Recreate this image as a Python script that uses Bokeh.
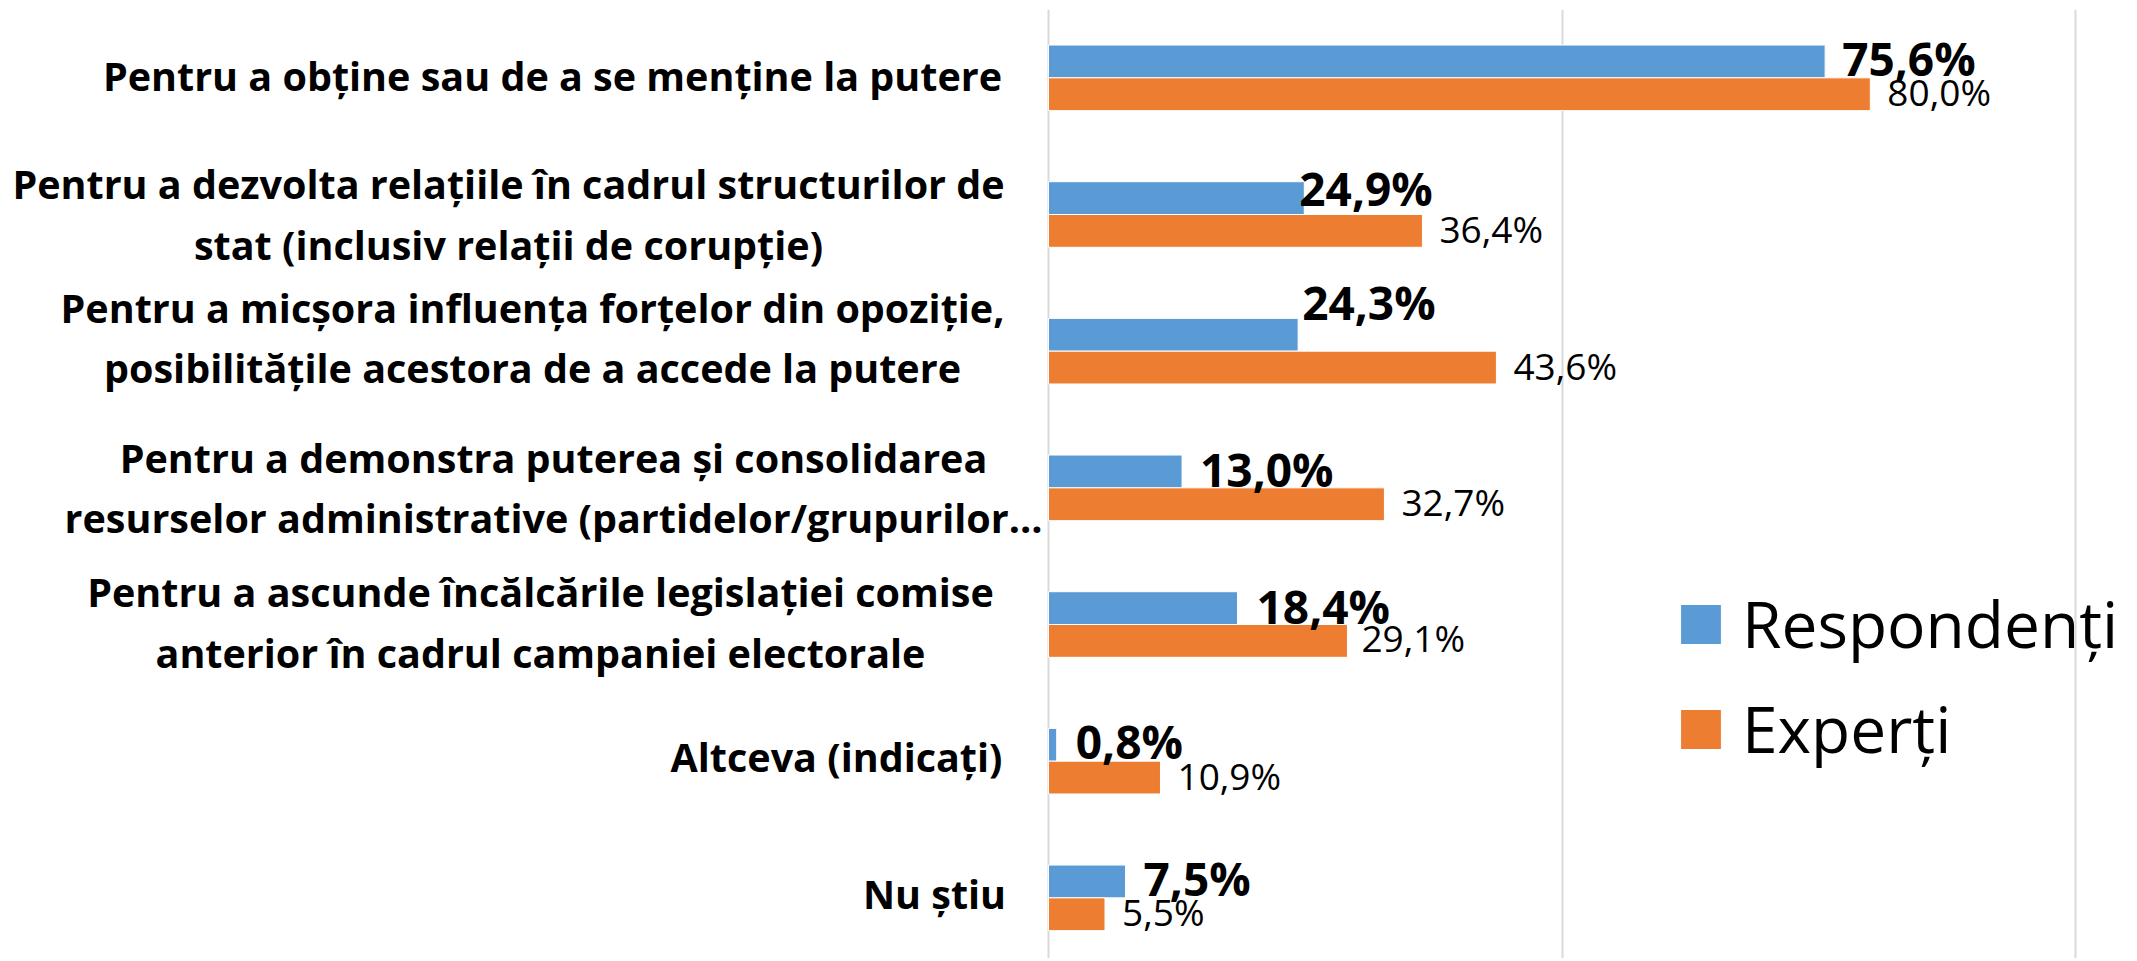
import numpy as np
from bokeh.plotting import figure
from bokeh.models import ColumnDataSource, Range1d, FixedTicker, Grid, Legend, LegendItem
from bokeh.core.properties import value
from bokeh.embed import file_html
from bokeh.resources import INLINE

# ---------------- data ----------------
categories = [
    "Pentru a obține sau de a se menține la putere",
    "Pentru a dezvolta relațiile în cadrul structurilor de\nstat (inclusiv relații de corupție)",
    "Pentru a micșora influența forțelor din opoziție,\nposibilitățile acestora de a accede la putere",
    "Pentru a demonstra puterea și consolidarea\nresurselor administrative (partidelor/grupurilor…",
    "Pentru a ascunde încălcările legislației comise\nanterior în cadrul campaniei electorale",
    "Altceva (indicați)",
    "Nu știu",
]
respondenti = [75.6, 24.9, 24.3, 13.0, 18.4, 0.8, 7.5]
experti = [80.0, 36.4, 43.6, 32.7, 29.1, 10.9, 5.5]
series_names = ["Respondenți", "Experți"]
grid_ticks = [0, 50, 100]

# ---------------- layout constants (pixels) ----------------
W, H = 2134, 958
ZERO_PX = 1048.0
UNIT_PX = 10.273          # pixels per percentage point
TOP_PX = 9
BAND_PX = 136.67
BAR_H = 0.24
BL_FIX = 0.43             # baseline correction (fraction of font size)
R_SIZE, E_SIZE, C_SIZE, L_SIZE = 46, 37, 39.5, 64

x_start = (0 - ZERO_PX) / UNIT_PX
x_end = (W - ZERO_PX) / UNIT_PX
y_top = -0.5
y_bottom = -0.5 + (H - TOP_PX) / BAND_PX

# label nudges in pixels (layout only)
resp_dx = [17, -5, 4, 18, 19, 19, 18]
resp_dy = [0, -7, -29, 1, 1, 0, 0]
exp_dx = [17, 17, 17, 17, 14, 17, 17]
exp_dy = [30, 30, 30, 30, 29, 30, 30]
cat_center_px = [552, 508, 532, 553, 540, 836, 934]
cat_dy = [-2, 0, -13, 0, -2, -4, -4]

fmt = lambda v: f"{v:.1f}".replace(".", ",") + "%"

idx = np.arange(len(categories))
src = ColumnDataSource(dict(
    pos=idx,
    y_r=idx - BAR_H / 2,
    y_e=idx + BAR_H / 2,
    r=respondenti,
    e=experti,
    lab_r=[fmt(v) for v in respondenti],
    lab_e=[fmt(v) for v in experti],
    dx_r=resp_dx, dy_r=[d - BL_FIX * R_SIZE for d in resp_dy],
    dx_e=exp_dx, dy_e=[d - BL_FIX * E_SIZE for d in exp_dy],
    cat=categories,
    cat_x=[(c - ZERO_PX) / UNIT_PX for c in cat_center_px],
    cat_dy=cat_dy,
))

p = figure(width=W, height=H,
           x_range=Range1d(x_start, x_end), y_range=Range1d(y_bottom, y_top),
           x_axis_location=None, y_axis_location=None,
           min_border_left=0, min_border_right=0, min_border_top=TOP_PX,
           min_border_bottom=0,
           output_backend="svg", toolbar_location=None)
p.outline_line_color = None
p.background_fill_color = "white"
p.border_fill_color = "white"
p.xgrid.visible = False
p.ygrid.visible = False

grid = Grid(dimension=0, ticker=FixedTicker(ticks=grid_ticks),
            grid_line_color="#D9D9D9", grid_line_width=2)
p.add_layout(grid)

rb = p.hbar(y="y_r", left=0, right="r", height=BAR_H, source=src,
            fill_color="#5B9BD5", line_color="white", line_width=1)
eb = p.hbar(y="y_e", left=0, right="e", height=BAR_H, source=src,
            fill_color="#ED7D31", line_color="white", line_width=1)

p.text(x="r", y="pos", text="lab_r", x_offset="dx_r", y_offset="dy_r", source=src,
       text_font=value("Open Sans"), text_font_style="bold", text_font_size=f"{R_SIZE}px",
       text_color="black", text_align="left", text_baseline="alphabetic")
p.text(x="e", y="pos", text="lab_e", x_offset="dx_e", y_offset="dy_e", source=src,
       text_font=value("Open Sans"), text_font_style="normal", text_font_size=f"{E_SIZE}px",
       text_color="black", text_align="left", text_baseline="alphabetic")

p.text(x="cat_x", y="pos", text="cat", y_offset="cat_dy", source=src,
       text_font=value("Open Sans"), text_font_style="bold", text_font_size=f"{C_SIZE}px",
       text_color="black", text_align="center", text_baseline="middle",
       text_line_height=1.12)

legend = Legend(items=[LegendItem(label=series_names[0], renderers=[rb]),
                       LegendItem(label=series_names[1], renderers=[eb])],
                location=(1675, H - 772),
                glyph_width=51, glyph_height=50, label_height=40,
                label_standoff=16, spacing=18, padding=0, margin=0,
                border_line_alpha=0, background_fill_alpha=0,
                label_text_font="Open Sans", label_text_font_size=f"{L_SIZE}px",
                label_text_color="black")
p.add_layout(legend)

open("out.html", "w").write(file_html(p, INLINE))
